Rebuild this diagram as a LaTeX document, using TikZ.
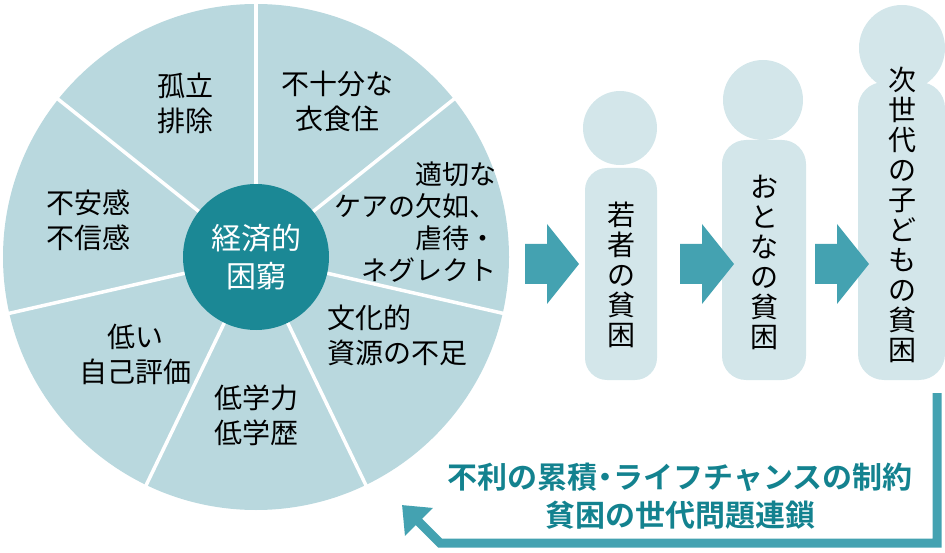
\documentclass[tikz,border=0pt]{standalone}
\usepackage{fontspec}
\setmainfont{Noto Sans CJK JP}
\newfontfamily\jpb{Noto Sans CJK JP Bold}
\usetikzlibrary{arrows.meta}
\definecolor{wedge}{HTML}{B9D8DE}
\definecolor{core}{HTML}{1B8895}
\definecolor{fig}{HTML}{D3E6EA}
\definecolor{teal}{HTML}{44A2B1}
\definecolor{tealtxt}{HTML}{13828F}
\begin{document}
\begin{tikzpicture}[x=1pt,y=-1pt,
  lab/.style={font=\fontsize{28}{35}\selectfont,align=center,inner sep=0},
  vlab/.style={font=\fontsize{28}{30}\selectfont,align=center,inner sep=0}]
\useasboundingbox (0,0) rectangle (945,553);
% pie
\fill[wedge] (256,257) circle (253);
\foreach \i in {0,...,6}{
  \draw[white,line width=3.5pt] (256,257) -- ++({90-\i*51.43}:-255);
}
\node[circle,fill=core,minimum size=146pt,inner sep=0,text=white,font=\fontsize{30}{38}\selectfont,align=center] (c) at (256,257) {経済的\\困窮};
\node[lab] (w1) at (185,103) {孤立\\排除};
\node[lab] (w2) at (337,101) {不十分な\\衣食住};
\node[lab,align=right,anchor=east,font=\fontsize{27}{32}\selectfont] (w3) at (497,222) {適切な\\ケアの欠如、\\虐待・\\ネグレクト};
\node[lab,align=left] (w4) at (397,335) {文化的\\資源の不足};
\node[lab] (w5) at (256,415) {低学力\\低学歴};
\node[lab] (w6) at (135,354) {低い\\自己評価};
\node[lab] (w7) at (88,220) {不安感\\不信感};
% figures
\fill[fig] (620,128) circle (37);
\fill[fig,rounded corners=22pt] (585,380) -- (585,168) -- (657,168) -- (657,380) -- cycle;
\fill[fig] (763,100) circle (40);
\fill[fig,rounded corners=24pt] (722,380) -- (722,140) -- (806,140) -- (806,380) -- cycle;
\fill[fig] (902,48) circle (43);
\fill[fig,rounded corners=26pt] (858,380) -- (858,82) -- (945,82) -- (945,380) -- cycle;
\node[vlab] (f1) at (621,275) {若\\者\\の\\貧\\困};
\node[vlab] (f2) at (764,262) {お\\と\\な\\の\\貧\\困};
\node[vlab] (f3) at (902,215) {次\\世\\代\\の\\子\\ど\\も\\の\\貧\\困};
% block arrows
\foreach \n/\x in {a1/525,a2/680,a3/815}{
  \fill[teal] (\x,244) -- ++(22,0) -- ++(0,-20) -- ++(32,40) -- ++(-32,40) -- ++(0,-20) -- ++(-22,0) -- cycle;
}
% return arrow
\coordinate (r0) at (937,393);
\coordinate (r1) at (937,543);
\coordinate (r2) at (440,543);
\coordinate (r3) at (402,505);
\draw[teal,line width=9pt,-{Triangle[length=24pt,width=38pt]}] (r0) -- (r1) -- (r2) -- (r3);
\node[text=tealtxt,font=\jpb\fontsize{30}{38}\selectfont,align=center,inner sep=0] (t) at (680,496) {不利の累積\kern-7pt・\kern-7ptライフチャンスの制約\\貧困の世代問題連鎖};
\end{tikzpicture}
\end{document}
